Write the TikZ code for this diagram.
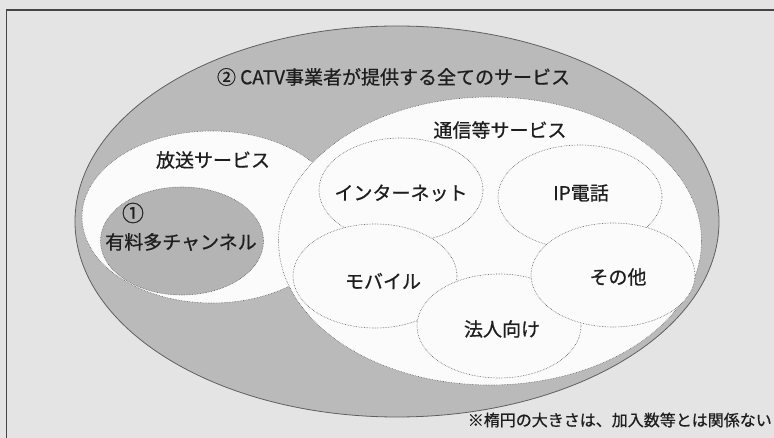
\documentclass[tikz,border=0pt]{standalone}
\usepackage{fontspec}
\setmainfont{Noto Sans CJK JP}[FakeBold=0.7]
\usetikzlibrary{shapes.geometric}
\definecolor{bg}{RGB}{228,228,228}
\definecolor{band}{RGB}{186,186,186}
\definecolor{paygray}{RGB}{180,180,180}
\definecolor{whitish}{RGB}{251,251,251}
\definecolor{edge}{RGB}{95,95,95}
\definecolor{frameline}{RGB}{70,70,70}
\definecolor{ink}{RGB}{30,30,30}
\begin{document}
\begin{tikzpicture}[x=1pt,y=-1pt,
  region/.style={ellipse, inner sep=0pt, draw=edge, line width=0.6pt, densely dotted},
  svc/.style={region, fill=whitish, minimum width=164pt, minimum height=104pt},
  lbl/.style={inner sep=0pt, text=ink, font=\fontsize{19}{22}\selectfont},
  note/.style={inner sep=0pt, text=ink, font=\fontsize{16}{19}\selectfont}]
\useasboundingbox (0,0) rectangle (774,438);
\fill[bg] (0,0) rectangle (774,438);
\begin{scope}
\clip (0,0) rectangle (774,438);
\draw[frameline, line width=1.3pt] (6.5,10) rectangle (800,460);
\end{scope}
% outer ellipse
\node[ellipse, inner sep=0pt, fill=band, draw=edge, line width=0.8pt,
  minimum width=644pt, minimum height=391pt] (all) at (397,221.5) {};
% broadcast
\node[region, fill=whitish, minimum width=260pt, minimum height=172pt] (bcast) at (212,217) {};
\node[region, fill=paygray, minimum width=163pt, minimum height=108pt] (paych) at (182,241) {};
% communications
\node[region, fill=whitish, minimum width=423pt, minimum height=288pt] (comm) at (490,241) {};
\node[svc] (inet) at (401,190) {};
\node[svc] (ipt) at (580,197) {};
\node[svc] (mob) at (375,276) {};
\node[svc] (corp) at (499,326) {};
\node[svc] (other) at (613,275) {};
% labels
\node[lbl] (tall) at (393.5,77) {② CATV事業者が提供する全てのサービス};
\node[lbl] (tbcast) at (213,160) {放送サービス};
\node[lbl, font=\fontsize{22}{24}\selectfont] (tone) at (133,213) {①};
\node[lbl] (tpay) at (181,242) {有料多チャンネル};
\node[lbl] (tcomm) at (500,130) {通信等サービス};
\node[lbl] (tinet) at (401,193) {インターネット};
\node[lbl] (tipt) at (581,193) {IP電話};
\node[lbl] (tmob) at (383,281) {モバイル};
\node[lbl] (tother) at (618,277) {その他};
\node[lbl] (tcorp) at (502,329) {法人向け};
\node[note, anchor=east] (tnote) at (772,420) {※楕円の大きさは、加入数等とは関係ない};
\end{tikzpicture}
\end{document}
